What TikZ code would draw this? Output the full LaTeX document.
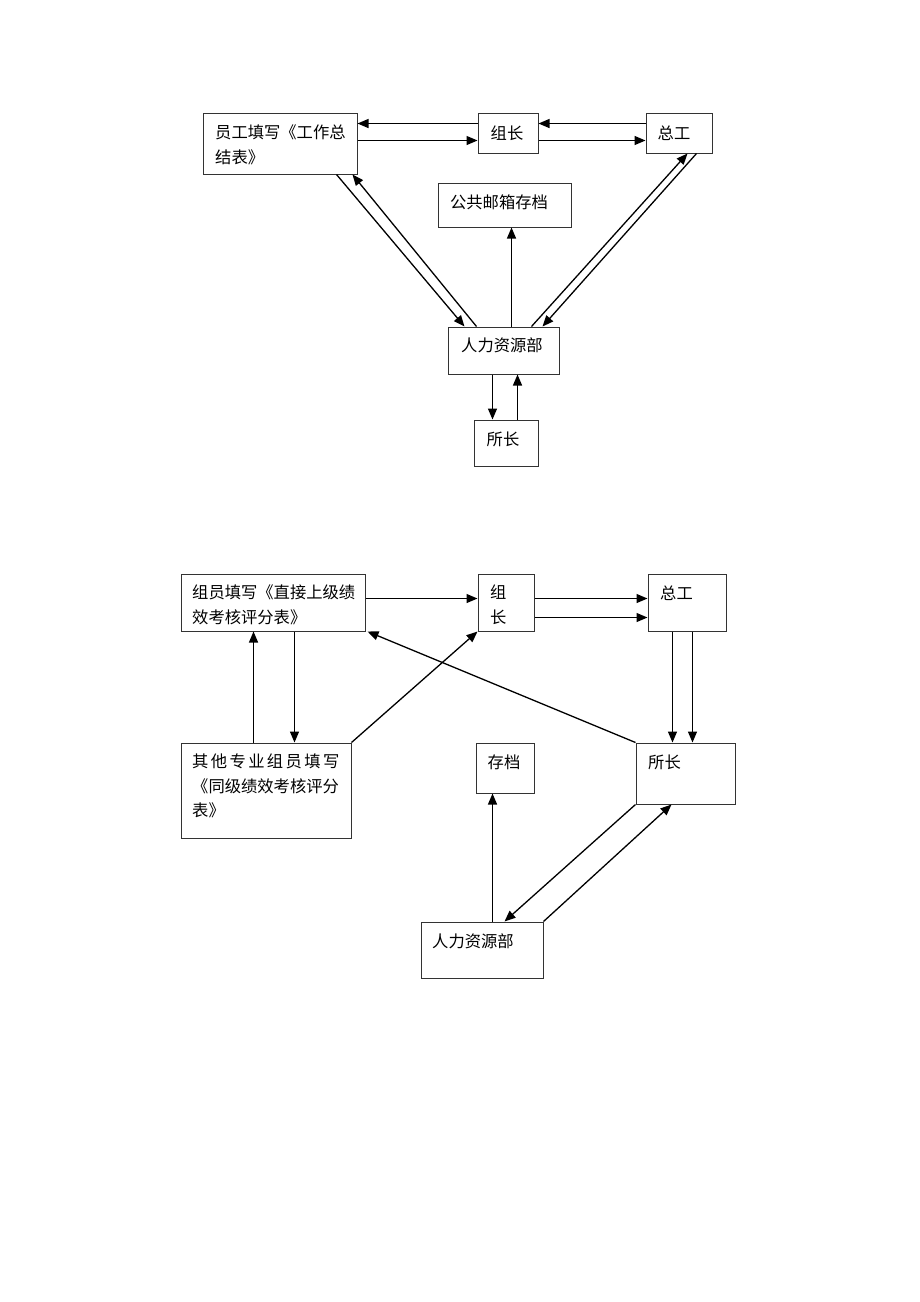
\documentclass[tikz,border=0pt]{standalone}
\usepackage{fontspec}
\newfontfamily\cjk{Noto Sans CJK SC}
\usetikzlibrary{arrows.meta}
\begin{document}
\begin{tikzpicture}[x=1pt,y=-1pt,
  box/.style={draw=black!80, line width=1pt, inner sep=0pt},
  txt/.style={inner sep=0pt, align=left, font=\fontsize{16.3}{24.5}\selectfont\cjk},
  arr/.style={-{Triangle[length=11pt,width=9pt]}, line width=1.3pt}]
\useasboundingbox (0,0) rectangle (920,1302);
% ---------- top diagram ----------
\node[box, minimum width=154pt, minimum height=61pt] (A) at (280,143.5) {};
\node[box, minimum width=60pt, minimum height=40pt] (B) at (508,133) {};
\node[box, minimum width=66pt, minimum height=40pt] (C) at (679,133) {};
\node[box, minimum width=133pt, minimum height=44pt] (D) at (504.5,205) {};
\node[box, minimum width=111pt, minimum height=47pt] (E) at (503.5,350.5) {};
\node[box, minimum width=64pt, minimum height=46pt] (F) at (506,443) {};
\node[txt, anchor=north west] (At) at (215,125) {员工填写《工作总\\结表》};
\node[txt] (Bt) at (507,133) {组长};
\node[txt] (Ct) at (674,133) {总工};
\node[txt] (Dt) at (499,202) {公共邮箱存档};
\node[txt, anchor=west] (Et) at (461,345) {人力资源部};
\node[txt] (Ft) at (503,439) {所长};
\draw[arr] ([yshift=-11pt]B.north west) -- ([yshift=-11pt]A.north east);
\draw[arr] ([yshift=-28pt]A.north east) -- ([yshift=-28pt]B.north west);
\draw[arr] ([yshift=-11pt]C.north west) -- ([yshift=-11pt]B.north east);
\draw[arr] ([yshift=-28pt]B.north east) -- ([yshift=-28pt]C.north west);
\draw[arr] ([xshift=134pt]A.south west) -- ([xshift=17pt]E.north west);
\draw[arr] ([xshift=29pt]E.north west) -- ([xshift=-5pt]A.south east);
\draw[arr] ([xshift=64pt]E.north west) -- ([xshift=74pt]D.south west);
\draw[arr] ([xshift=84pt]E.north west) -- ([xshift=42pt]C.south west);
\draw[arr] ([xshift=51pt]C.south west) -- ([xshift=95pt]E.north west);
\draw[arr] ([xshift=45pt]E.south west) -- ([xshift=19pt]F.north west);
\draw[arr] ([xshift=44pt]F.north west) -- ([xshift=70pt]E.south west);
% ---------- bottom diagram ----------
\node[box, minimum width=184pt, minimum height=57pt] (G) at (273,602.5) {};
\node[box, minimum width=56pt, minimum height=57pt] (H) at (506,602.5) {};
\node[box, minimum width=78pt, minimum height=57pt] (I) at (687,602.5) {};
\node[box, minimum width=170pt, minimum height=95pt] (J) at (266,790.5) {};
\node[box, minimum width=58pt, minimum height=50pt] (K) at (505,768) {};
\node[box, minimum width=99pt, minimum height=61pt] (L) at (685.5,773.5) {};
\node[box, minimum width=122pt, minimum height=56pt] (M) at (482,950) {};
\node[txt, anchor=north west] (Gt) at (192,585) {组员填写《直接上级绩\\效考核评分表》};
\node[txt, anchor=north west] (Ht) at (490,585) {组\\长};
\node[txt, anchor=west] (It) at (660,593) {总工};
\node[txt, anchor=north west] (Jt) at (192,754) {其\kern2.4pt 他\kern2.4pt 专\kern2.4pt 业\kern2.4pt 组\kern2.4pt 员\kern2.4pt 填\kern2.4pt 写\\《同级绩效考核评分\\表》};
\node[txt] (Kt) at (504,762) {存档};
\node[txt, anchor=west] (Lt) at (648,762) {所长};
\node[txt, anchor=west] (Mt) at (432,941) {人力资源部};
\draw[arr] ([yshift=-25pt]G.north east) -- ([yshift=-25pt]H.north west);
\draw[arr] ([yshift=-25pt]H.north east) -- ([yshift=-25pt]I.north west);
\draw[arr] ([yshift=-44pt]H.north east) -- ([yshift=-44pt]I.north west);
\draw[arr] ([xshift=25pt]I.south west) -- ([xshift=37pt]L.north west);
\draw[arr] ([xshift=45pt]I.south west) -- ([xshift=57pt]L.north west);
\draw[arr] (L.north west) -- ([xshift=2pt]G.south east);
\draw[arr] ([xshift=73pt]J.north west) -- ([xshift=73pt]G.south west);
\draw[arr] ([xshift=114pt]G.south west) -- ([xshift=114pt]J.north west);
\draw[arr] (J.north east) -- (H.south west);
\draw[arr] ([xshift=72pt]M.north west) -- ([xshift=17pt]K.south west);
\draw[arr] (L.south west) -- ([xshift=84pt]M.north west);
\draw[arr] (M.north east) -- ([xshift=36pt]L.south west);
\end{tikzpicture}
\end{document}
